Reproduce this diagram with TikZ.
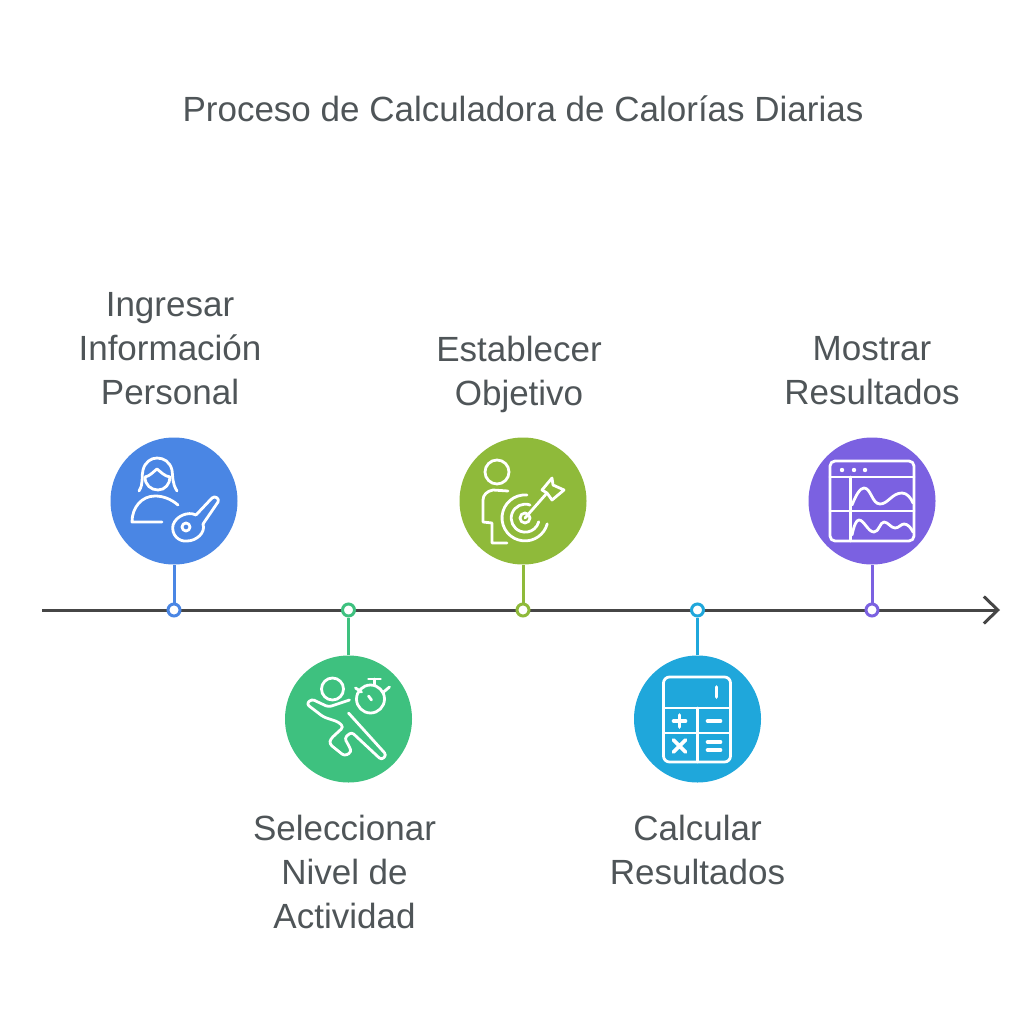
\documentclass[tikz,border=0pt]{standalone}
\usepackage{fontspec}
\setmainfont{Liberation Sans}
\usetikzlibrary{arrows.meta,positioning}
\definecolor{txtgray}{HTML}{4F5558}
\definecolor{axisgray}{HTML}{464646}
\definecolor{cblue}{HTML}{4A86E4}
\definecolor{cgreen}{HTML}{3EC17F}
\definecolor{clime}{HTML}{8FBA3A}
\definecolor{ccyan}{HTML}{1FA7DB}
\definecolor{cpurple}{HTML}{7B61E1}
\tikzset{
  stepcircle/.style={circle,fill=#1,minimum size=127pt,inner sep=0pt},
  stepdot/.style={circle,draw=#1,fill=white,line width=3pt,minimum size=12pt,inner sep=0pt},
  steplink/.style={draw=#1,line width=3pt},
  steplabel/.style={text=txtgray,align=center,font=\fontsize{35}{44}\selectfont},
  icon/.style={draw=white,line width=2.8pt,line cap=round,line join=round},
}
\begin{document}
\begin{tikzpicture}[x=1pt,y=-1pt,node distance=174.5pt,on grid]
  \useasboundingbox (0,0) rectangle (1024,1024);

  \node[steplabel] (title) at (523,109) {Proceso de Calculadora de Calorías Diarias};

  \coordinate (axisstart) at (42,610);
  \coordinate (axisend) at (1000,610);
  \draw[axisgray,line width=3pt,-{Straight Barb[length=14pt,width=27pt,line width=3pt]}] (axisstart) -- (axisend);

  \node[stepdot=cblue]   (d1) at (174,610) {};
  \node[stepdot=cgreen]  (d2) [right=of d1] {};
  \node[stepdot=clime]   (d3) [right=of d2] {};
  \node[stepdot=ccyan]   (d4) [right=of d3] {};
  \node[stepdot=cpurple] (d5) [right=of d4] {};

  \node[stepcircle=cblue]   (c1) [above=109pt of d1] {};
  \node[stepcircle=cgreen]  (c2) [below=109pt of d2] {};
  \node[stepcircle=clime]   (c3) [above=109pt of d3] {};
  \node[stepcircle=ccyan]   (c4) [below=109pt of d4] {};
  \node[stepcircle=cpurple] (c5) [above=109pt of d5] {};

  \node[steplabel] (l1) [above=152pt of c1,xshift=-4pt] {Ingresar\\Información\\Personal};
  \node[steplabel] (l2) [below=153pt of c2,xshift=-4pt] {Seleccionar\\Nivel de\\Actividad};
  \node[steplabel] (l3) [above=127pt of c3,xshift=-4pt] {Establecer\\Objetivo};
  \node[steplabel] (l4) [below=131pt of c4] {Calcular\\Resultados};
  \node[steplabel] (l5) [above=130pt of c5] {Mostrar\\Resultados};

  \path (c1) edge[steplink=cblue]   (d1)
        (c2) edge[steplink=cgreen]  (d2)
        (c3) edge[steplink=clime]   (d3)
        (c4) edge[steplink=ccyan]   (d4)
        (c5) edge[steplink=cpurple] (d5);

  % person and key
  \begin{scope}[shift={(c1)},icon]
    \draw (-35,-10) .. controls (-30,-18) and (-33,-24) .. (-31,-31) .. controls (-29,-39) and (-23,-43) .. (-17,-43)
          .. controls (-10,-43) and (-4,-39) .. (-2,-31) .. controls (-1,-24) and (-2,-18) .. (3,-10);
    \draw (-29,-24) .. controls (-29,-16) and (-23,-11) .. (-16,-11) .. controls (-9,-11) and (-4,-17) .. (-4,-24)
          .. controls (-10,-25) and (-13,-29) .. (-17,-32) .. controls (-21,-29) and (-24,-25) .. (-29,-24);
    \draw (4,4) .. controls (-3,-2) and (-11,-5) .. (-19,-5) .. controls (-32,-5) and (-42,6) .. (-42,21) -- (-12,21);
    \draw (22,14) -- (38,-3) .. controls (41,-6) and (46,-2) .. (44,1) -- (29,23);
    \draw (22,14) .. controls (14,10) and (2,15) .. (-1,24) .. controls (-3,34) and (5,41) .. (13,40)
          .. controls (22,40) and (32,32) .. (29,23);
    \draw (12,26) circle[radius=4];
  \end{scope}

  % runner and stopwatch
  \begin{scope}[shift={(c2)},icon]
    \draw (-16,-30) circle[radius=11];
    \draw (22,-20) circle[radius=14];
    \draw (20,-23) -- (23,-19);
    \draw (20,-40) -- (32,-40) (26,-40) -- (26,-34);
    \draw (7,-31) -- (13,-27) (41,-32) -- (35,-27);
    \draw[rounded corners=3pt] (1,-19) -- (-20,-12) -- (-37,-20) -- (-42,-15) -- (-25,-2) -- (-10,3) -- (-5,8)
          -- (-18,20) -- (-19,25) -- (-4,37) -- (3,33) -- (1,28) -- (-4,19) -- (3,13) -- (33,41) -- (38,36) -- (0,-6);
  \end{scope}

  % person and target
  \begin{scope}[shift={(c3)},icon]
    \draw (-26,-29) circle[radius=12];
    \draw (-15,-10) -- (-30,-11) .. controls (-36,-10) and (-40,-6) .. (-40,-1) -- (-40,21) -- (-31,22) -- (-31,42) -- (-16,42);
    \draw (4,-6) arc[start angle=-85,end angle=-345,radius=23];
    \draw (7,4) arc[start angle=-70,end angle=-345,radius=14];
    \draw (2,17) circle[radius=5];
    \draw (2,17) -- (24,-8) -- (19,-11) -- (29,-23) -- (30,-16) -- (41,-11) -- (29,-1) -- (24,-8);
  \end{scope}

  % calculator
  \begin{scope}[shift={(c4)},icon]
    \draw[rounded corners=6pt] (-34,-42) rectangle (33,43);
    \draw (-34,-11) -- (33,-11) (-34,14) -- (33,14) (0,-11) -- (0,43);
    \draw[line width=3.6pt] (19,-32) -- (19,-22);
    \draw[line width=3.6pt] (-24,2) -- (-12,2) (-18,-4) -- (-18,8);
    \draw[line width=3.6pt] (10,2) -- (23,2);
    \draw[line width=3.6pt] (-24,21) -- (-12,33) (-24,33) -- (-12,21);
    \draw[line width=3.6pt] (10,23) -- (23,23) (10,31) -- (23,31);
  \end{scope}

  % dashboard
  \begin{scope}[shift={(c5)},icon]
    \draw[rounded corners=5pt] (-42,-40) rectangle (42,40);
    \draw (-42,-24) -- (42,-24) (-21.5,-24) -- (-21.5,40) (-42,10) -- (42,10);
    \fill[white] (-30,-31) circle[radius=2.2] (-18,-31) circle[radius=2.2] (-7,-31) circle[radius=2.2];
    \draw (-20,4) .. controls (-16,-6) and (-12,-13) .. (-8,-13) .. controls (-1,-13) and (0,3) .. (8,3)
          .. controls (16,3) and (20,-8) .. (30,-8) .. controls (35,-8) and (39,-3) .. (41,2);
    \draw (-20,34) .. controls (-18,25) and (-16,19) .. (-13,19) .. controls (-8,19) and (-4,31) .. (2,31)
          .. controls (7,31) and (8,21) .. (12,21) .. controls (16,21) and (19,27) .. (23,27)
          .. controls (27,27) and (29,23) .. (32,23) .. controls (36,23) and (39,27) .. (41,31);
  \end{scope}
\end{tikzpicture}
\end{document}
